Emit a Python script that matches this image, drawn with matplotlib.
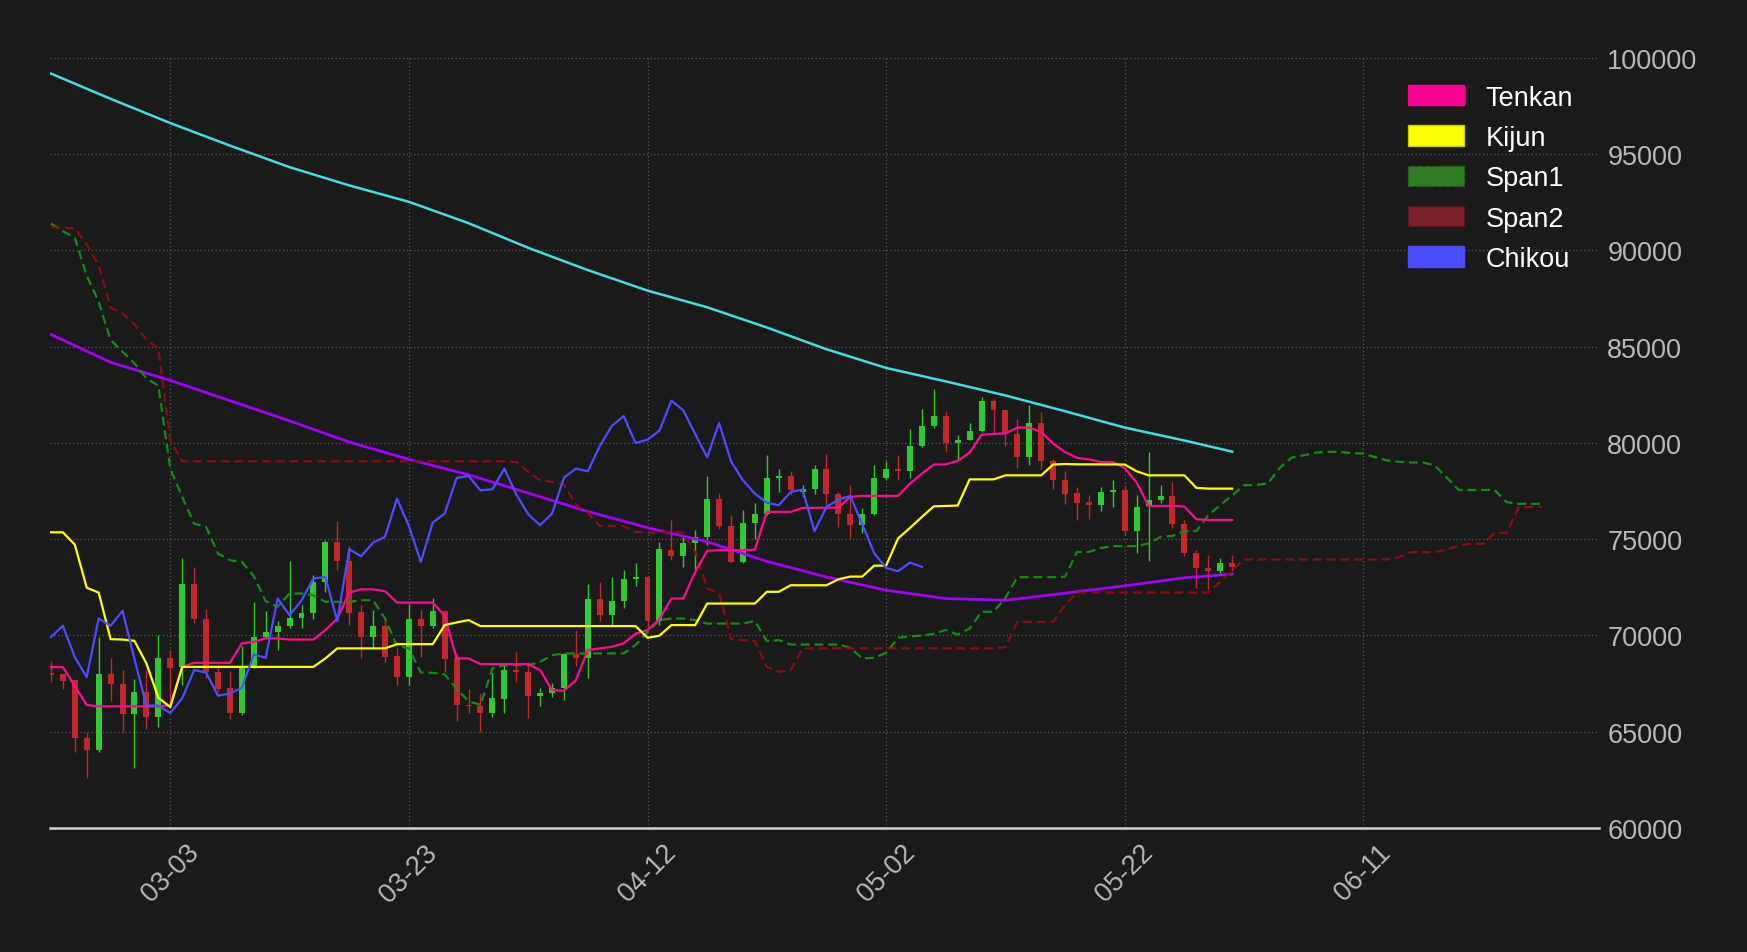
import numpy as np
import pandas as pd
import matplotlib
matplotlib.use("Agg")
import matplotlib.pyplot as plt
import matplotlib.dates as mdates
from matplotlib.patches import Patch

plt.rcParams['font.family'] = ['Liberation Sans', 'DejaVu Sans']

start_date = "2024-02-22"

opens = [68030, 67980, 67665, 64690, 64067, 68011, 67492, 65900, 67042, 65762,
         68842, 68374, 72700, 70883, 68115, 67250, 65970, 68374, 69931, 70191,
         70502, 70917, 71177, 72786, 74862, 73858, 71229, 69914, 70502, 68911,
         67838, 70883, 70502, 71281, 68807, 66385, 66350, 65970, 66714, 68201,
         68080, 66869, 66990, 67284, 69015, 68843, 71921, 71056, 71800, 72924,
         73045, 70744, 74447, 74118, 74827, 75121, 77111, 75692, 73824, 75865,
         76332, 78184, 78287, 77457, 77595, 78668, 77370, 76332, 75727, 76298,
         78184, 78668, 78530, 79844, 80882, 81401, 80000, 80173, 80640, 82197,
         81730, 80467, 79256, 81038, 79066, 78097, 77422, 76955, 76765, 77457,
         77578, 75415, 76713, 77024, 77249, 75796, 74308, 73512, 73340, 73789]
highs = [68670, 67980, 67700, 65000, 69931, 68842, 68200, 67734, 68200, 70018,
         69239, 74032, 73564, 71367, 68461, 68167, 69430, 71748, 71263, 70744,
         73858, 71575, 73132, 74948, 75935, 74637, 71575, 71316, 70970, 69326,
         71662, 71316, 71955, 71300, 69100, 67215, 66990, 68028, 68461, 69153,
         68634, 67284, 67510, 69066, 70277, 72700, 72786, 73045, 73391, 73789,
         73100, 74862, 76021, 75208, 75467, 78287, 77405, 76246, 76505, 76903,
         79395, 78633, 78530, 77838, 78841, 79446, 77457, 77838, 76627, 78841,
         79049, 79360, 80709, 81747, 82785, 81644, 80398, 81038, 82387, 82266,
         81730, 81228, 81955, 81592, 79187, 78530, 77716, 77318, 77716, 78062,
         77803, 77284, 79533, 77803, 77976, 75986, 74429, 74170, 74032, 74170]
lows = [67600, 67215, 63928, 62613, 63963, 66592, 65000, 63098, 65139, 65260,
        66300, 67423, 70675, 67800, 67077, 65658, 65866, 68300, 69845, 69240,
        70398, 70398, 70883, 72267, 73391, 70537, 68807, 69326, 68600, 67423,
        67423, 68893, 70364, 68115, 65550, 65952, 65001, 65779, 65952, 67561,
        65727, 66350, 66818, 66645, 68426, 67769, 70744, 70537, 71436, 72578,
        70364, 70537, 73910, 73564, 73478, 74689, 75519, 73790, 73790, 75035,
        76246, 77457, 77284, 77197, 77370, 76765, 75640, 75000, 75346, 76246,
        78062, 78062, 78184, 79792, 80778, 79533, 79152, 80138, 80571, 80484,
        79844, 78702, 78875, 78633, 77595, 76834, 75986, 76073, 76453, 76678,
        75294, 74308, 73858, 76886, 75606, 74135, 72474, 72405, 73218, 73339]
closes = [67940, 67630, 64690, 64067, 68011, 67475, 65900, 67042, 65762, 68842,
          68322, 72700, 70848, 68115, 67215, 65970, 68426, 69931, 70191, 70502,
          70917, 71177, 72786, 74862, 73858, 71194, 69914, 70502, 68876, 67838,
          70883, 70502, 71281, 68772, 66370, 66350, 65970, 66731, 68201, 68080,
          66869, 66990, 67284, 69015, 68843, 71921, 71056, 71817, 72959, 73045,
          70744, 74481, 74118, 74827, 75121, 77111, 75692, 73824, 75865, 76332,
          78184, 78287, 77543, 77595, 78668, 77336, 76298, 75727, 76332, 78201,
          78668, 78530, 79844, 80882, 81401, 80000, 80173, 80640, 82197, 81696,
          80467, 79256, 81038, 79049, 78062, 77370, 76903, 76765, 77457, 77578,
          75415, 76678, 77059, 77249, 75779, 74274, 73512, 73340, 73789, 73564]

tenkan = [68360, 68360, 67370, 66390, 66320, 66320, 66320, 66320, 66320, 66320,
          66380, 68370, 68580, 68580, 68580, 68580, 69590, 69670, 69850, 69850,
          69790, 69790, 69790, 70280, 70880, 72230, 72400, 72400, 72300, 71710,
          71710, 71710, 71710, 71020, 68810, 68810, 68510, 68510, 68510, 68510,
          68510, 68200, 67160, 67130, 67680, 69240, 69330, 69410, 69590, 70090,
          70280, 70850, 71920, 71920, 73300, 74400, 74430, 74430, 74430, 74460,
          76420, 76420, 76420, 76630, 76630, 76640, 76640, 77200, 77250, 77250,
          77250, 77250, 77890, 78410, 78880, 78890, 79070, 79500, 80430, 80470,
          80500, 80800, 80800, 80570, 79970, 79530, 79230, 79150, 79010, 79010,
          78700, 77940, 76730, 76730, 76730, 76700, 76040, 76000, 76000, 76000]
kijun = [75360, 75360, 74720, 72480, 72230, 69810, 69790, 69720, 68550, 66770,
         66280, 68370, 68370, 68370, 68370, 68370, 68370, 68370, 68370, 68370,
         68370, 68370, 68370, 68810, 69330, 69330, 69330, 69330, 69330, 69550,
         69550, 69550, 69550, 70540, 70680, 70800, 70490, 70490, 70490, 70490,
         70490, 70490, 70490, 70490, 70490, 70490, 70490, 70490, 70490, 70490,
         69880, 69990, 70540, 70540, 70540, 71660, 71660, 71660, 71660, 71660,
         72270, 72270, 72610, 72610, 72610, 72610, 72920, 73060, 73060, 73630,
         73630, 75040, 75590, 76160, 76710, 76730, 76750, 78110, 78110, 78110,
         78320, 78320, 78320, 78320, 78880, 78910, 78890, 78890, 78890, 78890,
         78880, 78530, 78320, 78320, 78320, 78320, 77670, 77630, 77630, 77630]
span1 = [91400, 91000, 90660, 88690, 87340, 85350, 84740, 84140, 83360, 82980,
         78670, 77200, 75810, 75640, 74260, 73910, 73820, 73090, 71780, 71490,
         72180, 72180, 72090, 71750, 71750, 71750, 71830, 71830, 70880, 69460,
         69330, 68080, 68060, 67980, 67230, 66590, 66390, 68290, 68460, 68460,
         68460, 68630, 68980, 69070, 69070, 69070, 69070, 69070, 69070, 69500,
         70190, 70800, 70880, 70880, 70800, 70620, 70620, 70620, 70620, 70760,
         69710, 69760, 69530, 69530, 69530, 69530, 69530, 69360, 68810, 68840,
         69100, 69880, 69950, 70000, 70090, 70290, 70050, 70360, 71230, 71230,
         71960, 73030, 73030, 73030, 73030, 73050, 74340, 74340, 74550, 74640,
         74640, 74640, 74780, 75120, 75170, 75420, 75420, 76250, 76770, 77280,
         77800, 77820, 77900, 78710, 79240, 79360, 79500, 79540, 79540, 79470,
         79450, 79260, 79090, 79020, 78990, 78990, 78820, 78200, 77560, 77560,
         77560, 77560, 76930, 76840, 76840, 76840]
span2 = [91230, 91190, 91140, 90310, 89240, 87030, 86730, 86160, 85380, 84910,
         80140, 79050, 79050, 79050, 79050, 79050, 79050, 79050, 79050, 79050,
         79050, 79050, 79050, 79050, 79050, 79050, 79050, 79050, 79050, 79050,
         79050, 79050, 79050, 79050, 79050, 79050, 79050, 79050, 79050, 79010,
         78500, 78060, 77980, 77840, 76800, 76380, 75690, 75690, 75680, 75380,
         75350, 75350, 75380, 75350, 74340, 72440, 72220, 69810, 69760, 69710,
         68370, 68120, 68200, 69330, 69330, 69330, 69330, 69330, 69330, 69330,
         69330, 69330, 69330, 69330, 69330, 69330, 69330, 69330, 69330, 69330,
         69400, 70710, 70710, 70710, 70710, 71580, 72230, 72230, 72230, 72230,
         72230, 72230, 72230, 72230, 72230, 72230, 72230, 72230, 72790, 73370,
         73950, 73950, 73950, 73950, 73950, 73950, 73950, 73950, 73950, 73950,
         73950, 73950, 73950, 74070, 74330, 74330, 74330, 74470, 74670, 74760,
         74760, 75330, 75330, 76650, 76680, 76680]

# slow moving averages, read every 5 days
ma_days = [0, 5, 10, 15, 20, 25, 30, 35, 40, 45, 50, 55, 60, 65, 70, 75, 80, 85, 90, 95, 99]
ma_long = [99190, 97880, 96620, 95450, 94330, 93380, 92530, 91420, 90140, 88980,
           87917, 87050, 86000, 84870, 83900, 83200, 82470, 81650, 80800, 80130, 79550]
ma_mid = [85640, 84190, 83250, 82200, 81150, 80050, 79150, 78350, 77400, 76440,
          75600, 74870, 73850, 73040, 72350, 71920, 71830, 72200, 72580, 73000, 73190]

chikou_shift = 26
tick_labels_dates = ["2024-03-03", "2024-03-23", "2024-04-12", "2024-05-02", "2024-05-22", "2024-06-11"]

# ---------------------------------------------------------------
BG = "#1a1a1a"
C_TENKAN = "#ff0a91"
C_KIJUN = "#ffff00"
C_SPAN1 = "#178a17"
C_SPAN2 = "#8a0f12"
C_CHIKOU = "#4d4dff"
C_UP = "#32c832"
C_DOWN = "#c1272d"

t0 = pd.Timestamp(start_date)
dates = pd.date_range(t0, periods=len(closes), freq="D")
span_dates = pd.date_range(t0, periods=len(span1), freq="D")
ma_dates = [t0 + pd.Timedelta(days=d) for d in ma_days]
x = mdates.date2num(dates)
xs = mdates.date2num(span_dates)
xm = mdates.date2num(ma_dates)

W, H = 1747, 953
fig = plt.figure(figsize=(W / 100, H / 100), dpi=100, facecolor=BG)
ax = fig.add_axes([50 / W, 1 - 829 / H, (1599 - 50) / W, (829 - 59) / H])
ax.set_facecolor(BG)

o = np.array(opens, float); c = np.array(closes, float)
h = np.array(highs, float); l = np.array(lows, float)
up = c >= o
cols = np.where(up, C_UP, C_DOWN)
ax.vlines(x, l, h, colors=cols, linewidth=1.0, zorder=2)
bottoms = np.minimum(o, c)
heights = np.maximum(np.abs(c - o), 60)
ax.bar(x, heights, bottom=bottoms, width=0.5, color=cols, linewidth=0, zorder=2)

ax.plot(xm, ma_long, color="#45dede", lw=1.8, zorder=3)
ax.plot(xm, ma_mid, color="#a200ff", lw=2.0, zorder=3)
ax.plot(xs, span1, color=C_SPAN1, lw=1.6, ls=(0, (4, 2.2)), zorder=3)
ax.plot(xs, span2, color=C_SPAN2, lw=1.6, ls=(0, (4, 2.2)), zorder=3)
ax.plot(x, tenkan, color=C_TENKAN, lw=1.6, zorder=4)
ax.plot(x, kijun, color=C_KIJUN, lw=1.6, zorder=4)
chikou = closes[chikou_shift:]
ax.plot(x[:len(chikou)], chikou, color=C_CHIKOU, lw=1.6, zorder=4)

ax.set_ylim(60000, 100000)
ax.set_xlim(x[0] - 0.08, x[0] + 129.75)
ax.set_yticks(np.arange(60000, 100001, 5000))
ax.yaxis.tick_right()
ax.set_xticks(mdates.date2num(pd.to_datetime(tick_labels_dates)))
ax.xaxis.set_major_formatter(mdates.DateFormatter("%m-%d"))
ax.tick_params(axis="y", length=0, pad=6, labelcolor="#b8b8b8", labelsize=19.5)
ax.tick_params(axis="x", length=0, pad=8, labelcolor="#b8b8b8", labelsize=19.5, labelrotation=45)
for lab in ax.get_xticklabels():
    lab.set_ha("center")
ax.grid(True, linestyle=(0, (1, 2)), color="#5a5a5a", linewidth=0.9)
ax.set_axisbelow(True)
for s in ("top", "left", "right"):
    ax.spines[s].set_visible(False)
ax.spines["bottom"].set_color("#d4d4d4")
ax.spines["bottom"].set_linewidth(1.8)

handles = [
    Patch(facecolor="#ff0090", edgecolor="#ff0090", label="Tenkan"),
    Patch(facecolor="#ffff00", edgecolor="#c8c800", label="Kijun"),
    Patch(facecolor="#2e7d23", edgecolor="#1d6a14", linestyle="--", label="Span1"),
    Patch(facecolor="#7a2028", edgecolor="#5e1218", linestyle="--", label="Span2"),
    Patch(facecolor="#4b4bff", edgecolor="#4b4bff", label="Chikou"),
]
leg = fig.legend(handles=handles, loc="upper left",
                 bbox_to_anchor=(1408 / W, 1 - 85.5 / H), frameon=False,
                 borderpad=0, borderaxespad=0, fontsize=19.5,
                 handlelength=2.05, handleheight=0.78, handletextpad=0.82,
                 labelspacing=0.53)
for t in leg.get_texts():
    t.set_color("white")

fig.savefig("out.png", dpi=100, facecolor=BG)
